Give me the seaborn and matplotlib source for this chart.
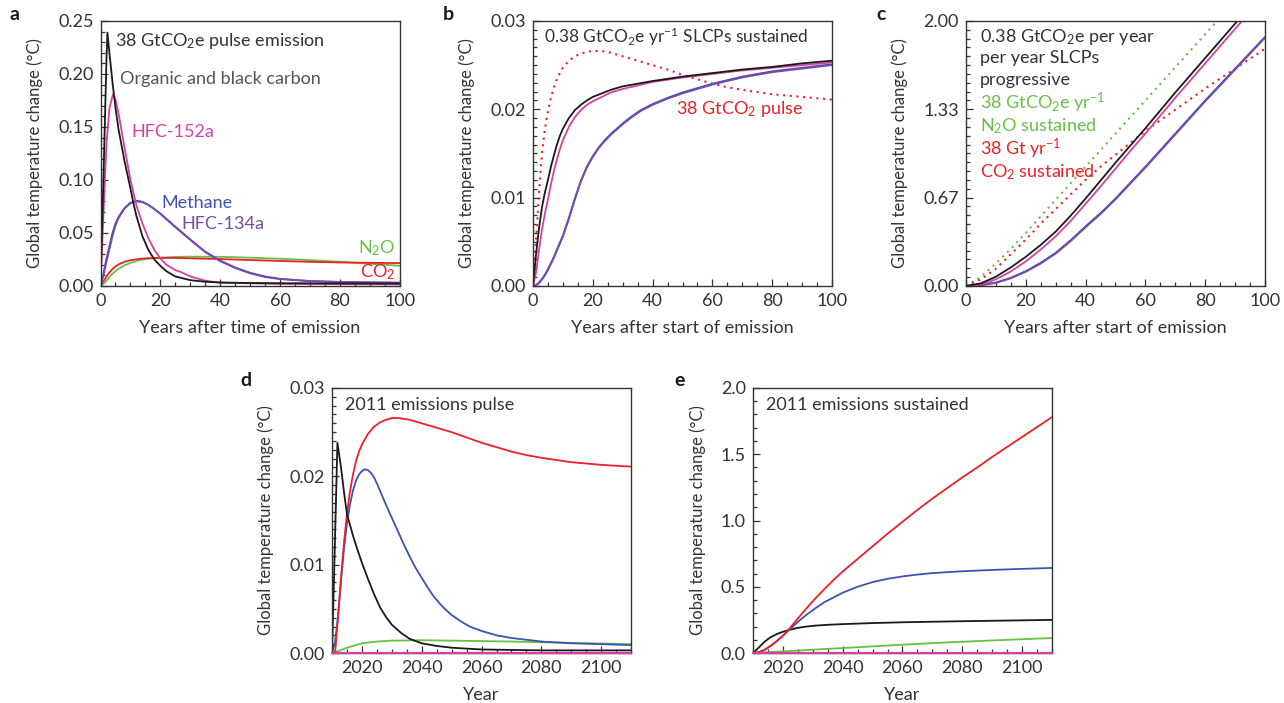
import matplotlib
matplotlib.use("Agg")
import matplotlib.pyplot as plt
import seaborn as sns
from matplotlib.ticker import MultipleLocator, FixedLocator

sns.set_style("ticks")
plt.rcParams['font.family'] = ['Lato', 'DejaVu Sans']
plt.rcParams['mathtext.fontset'] = 'custom'
plt.rcParams['mathtext.rm'] = 'Lato'
plt.rcParams['mathtext.it'] = 'Lato:italic'
plt.rcParams['mathtext.default'] = 'regular'

BLACK = "#1a1a1a"
PINK = "#d6409f"
BLUE = "#3d52b3"
PURPLE = "#7a4aa8"
GREEN = "#6abf45"
RED = "#ec2027"
TXT = "#333333"

# ---- panel a: 38 GtCO2e pulse ----
a_blk_t = [0, 1, 2, 2.3, 3, 4, 5, 6, 8, 10, 11, 12, 14, 16, 18, 20, 22, 25, 30, 35, 40, 50, 60, 80, 100]
a_blk_v = [0, 0.105, 0.215, 0.239, 0.219, 0.192, 0.168, 0.148, 0.118, 0.092, 0.078, 0.066, 0.047, 0.034, 0.025, 0.019, 0.014, 0.009, 0.0055, 0.004, 0.0033, 0.0028, 0.0026, 0.0024, 0.0023]
a_pnk_t = [0, 1, 2, 3, 4.2, 5, 6, 8, 10, 12, 14, 16, 18, 20, 22, 25, 27, 30, 35, 40, 60, 100]
a_pnk_v = [0, 0.07, 0.135, 0.168, 0.181, 0.176, 0.163, 0.131, 0.100, 0.076, 0.059, 0.045, 0.034, 0.026, 0.020, 0.015, 0.013, 0.009, 0.005, 0.003, 0.002, 0.0015]
a_ch4_t = [0, 1, 2, 3, 4, 5, 6, 8, 10, 12, 14, 16, 18, 20, 25, 30, 35, 40, 45, 50, 55, 60, 70, 80, 90, 100]
a_ch4_v = [0, 0.012, 0.026, 0.038, 0.050, 0.059, 0.065, 0.0735, 0.0785, 0.0805, 0.0795, 0.0765, 0.0725, 0.068, 0.0555, 0.0435, 0.032, 0.0235, 0.017, 0.012, 0.0085, 0.0065, 0.0045, 0.0037, 0.0033, 0.003]
a_134_v = [0, 0.010, 0.023, 0.035, 0.047, 0.057, 0.064, 0.073, 0.078, 0.0798, 0.079, 0.0765, 0.0727, 0.0683, 0.056, 0.044, 0.0325, 0.024, 0.0175, 0.0125, 0.009, 0.0068, 0.0047, 0.0039, 0.0035, 0.0032]
a_n2o_t = [0, 1, 2, 3, 4, 5, 6, 8, 10, 13, 16, 20, 25, 30, 40, 50, 60, 70, 80, 90, 100]
a_n2o_v = [0, 0.002, 0.005, 0.0085, 0.0115, 0.014, 0.016, 0.0195, 0.0218, 0.0243, 0.0258, 0.0268, 0.0274, 0.0277, 0.0275, 0.0267, 0.0257, 0.0244, 0.0228, 0.021, 0.0191]
a_co2_t = [0, 1, 2, 3, 4, 5, 6, 8, 10, 13, 16, 20, 25, 30, 40, 50, 60, 70, 80, 90, 100]
a_co2_v = [0, 0.0045, 0.009, 0.0128, 0.016, 0.0185, 0.0203, 0.0228, 0.0243, 0.0256, 0.0262, 0.0265, 0.0264, 0.0261, 0.0254, 0.0245, 0.0236, 0.0228, 0.0222, 0.0219, 0.0216]

# ---- panel b: sustained ----
b_t = [0, 1, 2, 3, 4, 5, 6, 7, 8, 9, 10, 12, 14, 16, 18, 20, 23, 26, 30, 35, 40, 50, 60, 70, 80, 90, 100]
b_blk = [0, 0.0035, 0.0065, 0.0089, 0.0106, 0.012, 0.0135, 0.0148, 0.016, 0.017, 0.0178, 0.019, 0.0199, 0.0205, 0.021, 0.0214, 0.0218, 0.0222, 0.0226, 0.0229, 0.0232, 0.0237, 0.0241, 0.0245, 0.0248, 0.0252, 0.0255]
b_pnk = [0, 0.0015, 0.004, 0.0064, 0.0082, 0.0098, 0.0115, 0.013, 0.0143, 0.0155, 0.0165, 0.018, 0.0191, 0.0199, 0.0205, 0.0209, 0.0214, 0.0219, 0.0223, 0.0227, 0.0231, 0.0236, 0.024, 0.0244, 0.0247, 0.025, 0.0253]
b_blu_t = [0, 1, 2, 3, 4, 5, 6, 7, 8, 9, 10, 11, 12, 13, 14, 15, 16, 17, 18, 19, 20, 22, 24, 26, 28, 30, 33, 36, 40, 45, 50, 55, 60, 70, 80, 90, 100]
b_blu = [0, 0.0001, 0.0004, 0.0008, 0.0013, 0.0019, 0.0026, 0.0033, 0.0041, 0.0049, 0.0057, 0.0067, 0.0077, 0.0088, 0.0099, 0.0109, 0.0119, 0.0127, 0.0135, 0.0141, 0.0147, 0.0157, 0.0165, 0.0172, 0.0178, 0.0184, 0.0192, 0.0199, 0.0206, 0.0213, 0.0219, 0.0224, 0.0229, 0.0237, 0.0243, 0.0247, 0.0251]
b_pur = [0, 0.0001, 0.0003, 0.0007, 0.0012, 0.0018, 0.0025, 0.0032, 0.004, 0.0048, 0.0056, 0.0066, 0.0076, 0.0087, 0.0098, 0.0108, 0.0118, 0.0126, 0.0134, 0.014, 0.0146, 0.0156, 0.0164, 0.0171, 0.0177, 0.0183, 0.0191, 0.0198, 0.0205, 0.0212, 0.0218, 0.0223, 0.0228, 0.0236, 0.0242, 0.0246, 0.025]
b_co2_t = [0, 1, 2, 3, 4, 5, 6, 7, 8, 9, 10, 12, 14, 16, 18, 20, 23, 26, 30, 35, 40, 45, 50, 55, 60, 65, 70, 80, 90, 100]
b_co2 = [0, 0.005, 0.0105, 0.015, 0.0178, 0.0198, 0.0213, 0.0225, 0.0234, 0.0241, 0.0247, 0.0255, 0.026, 0.0263, 0.0265, 0.0266, 0.0266, 0.0264, 0.026, 0.0255, 0.025, 0.0245, 0.0239, 0.0234, 0.0229, 0.0225, 0.0222, 0.0217, 0.0214, 0.0211]

# ---- panel c: progressive ----
c_t = [0, 5, 10, 15, 20, 25, 30, 35, 40, 45, 50, 55, 60, 65, 70, 75, 80, 85, 90, 95, 100]
c_n2o = [0, 0.07, 0.17, 0.28, 0.40, 0.525, 0.65, 0.775, 0.90, 1.025, 1.15, 1.275, 1.40, 1.525, 1.65, 1.775, 1.90, 2.025, 2.15, 2.275, 2.40]
c_co2 = [0, 0.05, 0.13, 0.24, 0.35, 0.47, 0.58, 0.69, 0.80, 0.90, 0.99, 1.08, 1.17, 1.25, 1.33, 1.41, 1.49, 1.565, 1.64, 1.715, 1.79]
c_blk = [0, 0.02, 0.07, 0.14, 0.22, 0.31, 0.41, 0.53, 0.66, 0.795, 0.93, 1.06, 1.19, 1.325, 1.46, 1.59, 1.72, 1.85, 1.98, 2.11, 2.24]
c_pnk = [0, 0.01, 0.05, 0.11, 0.185, 0.275, 0.375, 0.49, 0.62, 0.75, 0.885, 1.02, 1.15, 1.285, 1.42, 1.55, 1.68, 1.81, 1.94, 2.07, 2.20]
c_blu = [0, 0.006, 0.026, 0.062, 0.112, 0.175, 0.25, 0.345, 0.45, 0.55, 0.66, 0.78, 0.90, 1.025, 1.15, 1.275, 1.40, 1.52, 1.64, 1.76, 1.88]
c_pur = [0, 0.005, 0.023, 0.058, 0.107, 0.169, 0.244, 0.338, 0.443, 0.543, 0.653, 0.773, 0.893, 1.018, 1.143, 1.268, 1.393, 1.513, 1.633, 1.753, 1.873]

# ---- panel d: 2011 emissions pulse ----
d_blk_t = [2010, 2011, 2011.8, 2013, 2014, 2015, 2016, 2017, 2018, 2020, 2022, 2024, 2026, 2028, 2030, 2033, 2036, 2040, 2045, 2050, 2060, 2080, 2110]
d_blk = [0, 0.013, 0.0238, 0.021, 0.0182, 0.0157, 0.0145, 0.0133, 0.0122, 0.0102, 0.0084, 0.0067, 0.0052, 0.0041, 0.0032, 0.0023, 0.0016, 0.0011, 0.0008, 0.0006, 0.0004, 0.0003, 0.0003]
d_co2_t = [2011, 2012, 2013, 2014, 2015, 2016, 2017, 2018, 2019, 2020, 2022, 2024, 2026, 2028, 2030, 2032, 2036, 2040, 2045, 2050, 2055, 2060, 2065, 2070, 2075, 2080, 2090, 2100, 2110]
d_co2 = [0, 0.004, 0.0085, 0.0125, 0.0158, 0.0183, 0.0202, 0.0217, 0.0228, 0.0236, 0.0248, 0.0256, 0.0261, 0.0264, 0.0266, 0.0266, 0.0264, 0.026, 0.0255, 0.025, 0.0244, 0.0238, 0.0233, 0.0228, 0.0224, 0.0221, 0.0216, 0.0213, 0.0211]
d_ch4_t = [2010, 2011, 2012, 2013, 2014, 2015, 2016, 2017, 2018, 2019, 2020, 2021, 2022, 2023, 2024, 2025, 2026, 2027, 2028, 2030, 2032, 2034, 2036, 2038, 2040, 2042, 2044, 2046, 2048, 2050, 2053, 2056, 2060, 2065, 2070, 2075, 2080, 2090, 2100, 2110]
d_ch4 = [0, 0.0012, 0.0042, 0.0082, 0.0118, 0.0147, 0.0168, 0.0184, 0.0195, 0.0202, 0.0206, 0.0208, 0.0207, 0.0204, 0.0199, 0.0192, 0.0184, 0.0176, 0.0168, 0.0153, 0.0138, 0.0123, 0.0109, 0.0096, 0.0085, 0.0074, 0.0064, 0.0056, 0.0049, 0.0043, 0.0036, 0.003, 0.0025, 0.002, 0.0017, 0.0015, 0.0013, 0.0011, 0.001, 0.0009]
d_n2o_t = [2010, 2012, 2015, 2018, 2020, 2025, 2030, 2040, 2050, 2060, 2070, 2080, 2090, 2100, 2110]
d_n2o = [0, 0.0002, 0.0006, 0.0009, 0.0011, 0.0013, 0.0014, 0.00145, 0.0014, 0.00135, 0.0013, 0.00122, 0.00115, 0.00108, 0.001]
d_hfc_t = [2010, 2110]
d_hfc = [0, 0]

# ---- panel e: 2011 emissions sustained ----
e_co2_t = [2010, 2012, 2014, 2016, 2018, 2020, 2022, 2025, 2028, 2031, 2034, 2037, 2040, 2045, 2050, 2055, 2060, 2065, 2070, 2075, 2080, 2085, 2090, 2095, 2100, 2105, 2110]
e_co2 = [0, 0.006, 0.025, 0.055, 0.09, 0.13, 0.178, 0.26, 0.34, 0.415, 0.485, 0.552, 0.615, 0.71, 0.805, 0.9, 0.99, 1.08, 1.165, 1.245, 1.325, 1.40, 1.48, 1.555, 1.63, 1.705, 1.78]
e_ch4_t = [2010, 2012, 2014, 2016, 2018, 2020, 2022, 2025, 2028, 2031, 2034, 2037, 2040, 2045, 2050, 2055, 2060, 2065, 2070, 2080, 2090, 2100, 2110]
e_ch4 = [0, 0.006, 0.025, 0.055, 0.09, 0.13, 0.172, 0.235, 0.29, 0.34, 0.385, 0.42, 0.455, 0.5, 0.535, 0.56, 0.578, 0.592, 0.603, 0.617, 0.627, 0.635, 0.642]
e_blk_t = [2010, 2011, 2012, 2013, 2014, 2015, 2016, 2018, 2020, 2022, 2025, 2028, 2031, 2035, 2040, 2050, 2060, 2080, 2110]
e_blk = [0, 0.02, 0.042, 0.065, 0.087, 0.105, 0.12, 0.143, 0.16, 0.174, 0.19, 0.2, 0.207, 0.213, 0.218, 0.226, 0.232, 0.24, 0.25]
e_n2o_t = [2010, 2030, 2050, 2070, 2090, 2110]
e_n2o = [0, 0.025, 0.05, 0.075, 0.095, 0.113]
e_hfc_t = [2010, 2110]
e_hfc = [0, 0]

fig = plt.figure(figsize=(12.84, 7.03), dpi=100)
W = 0.2329
H = 0.377
ax_a = fig.add_axes([0.0783, 0.5932, W, H])
ax_b = fig.add_axes([0.4151, 0.5932, W, H])
ax_c = fig.add_axes([0.7523, 0.5932, W, H])
ax_d = fig.add_axes([0.2586, 0.0711, W, H])
ax_e = fig.add_axes([0.5864, 0.0711, W, H])

LW = 1.3
DOT = (0, (1, 2.2))


def line(ax, x, y, c, **kw):
    sns.lineplot(x=x, y=y, ax=ax, color=c, lw=kw.pop('lw', LW), estimator=None, **kw)


def style(ax, xlim, ylim, xmaj, xmin, ymin, xlabel):
    ax.set_xlim(*xlim)
    ax.set_ylim(*ylim)
    ax.xaxis.set_major_locator(FixedLocator(xmaj))
    ax.xaxis.set_minor_locator(MultipleLocator(xmin))
    ax.yaxis.set_minor_locator(MultipleLocator(ymin))
    ax.tick_params(which='both', direction='in', top=False, right=False,
                   color=TXT, width=0.9, labelcolor=TXT, labelsize=13, pad=5)
    ax.tick_params(which='major', length=5)
    ax.tick_params(which='minor', length=3)
    for s in ax.spines.values():
        s.set_color(TXT)
        s.set_linewidth(1.0)
    ax.set_xlabel(xlabel, fontsize=13, color=TXT, labelpad=8)
    ax.set_ylabel("Global temperature change (°C)", fontsize=12, color=TXT, labelpad=11)


# panel a
line(ax_a, a_n2o_t, a_n2o_v, GREEN)
line(ax_a, a_co2_t, a_co2_v, RED)
line(ax_a, a_ch4_t, a_ch4_v, BLUE)
line(ax_a, a_ch4_t, a_134_v, PURPLE)
line(ax_a, a_pnk_t, a_pnk_v, PINK)
line(ax_a, a_blk_t, a_blk_v, BLACK)
style(ax_a, (0, 100), (0, 0.25), [0, 20, 40, 60, 80, 100], 5, 0.01, "Years after time of emission")
ax_a.set_yticks([0, 0.05, 0.10, 0.15, 0.20, 0.25])
ax_a.set_yticklabels(["0.00", "0.05", "0.10", "0.15", "0.20", "0.25"])
ax_a.text(0.049, 0.925, "38 GtCO$_2$e pulse emission", transform=ax_a.transAxes, fontsize=13, color=TXT, va='center')
ax_a.text(0.066, 0.781, "Organic and black carbon", transform=ax_a.transAxes, fontsize=13, color="#555555", va='center')
ax_a.text(0.102, 0.581, "HFC-152a", transform=ax_a.transAxes, fontsize=13, color=PINK, va='center')
ax_a.text(0.203, 0.313, "Methane", transform=ax_a.transAxes, fontsize=13, color=BLUE, va='center')
ax_a.text(0.270, 0.234, "HFC-134a", transform=ax_a.transAxes, fontsize=13, color=PURPLE, va='center')
ax_a.text(0.862, 0.143, "N$_2$O", transform=ax_a.transAxes, fontsize=13, color=GREEN, va='center')
ax_a.text(0.866, 0.053, "CO$_2$", transform=ax_a.transAxes, fontsize=13, color=RED, va='center')

# panel b
line(ax_b, b_co2_t, b_co2, RED, linestyle=DOT, lw=1.5)
line(ax_b, b_blu_t, b_blu, BLUE)
line(ax_b, b_blu_t, b_pur, PURPLE)
line(ax_b, b_t, b_pnk, PINK)
line(ax_b, b_t, b_blk, BLACK)
style(ax_b, (0, 100), (0, 0.03), [0, 20, 40, 60, 80, 100], 5, 0.001, "Years after start of emission")
ax_b.set_yticks([0, 0.01, 0.02, 0.03])
ax_b.set_yticklabels(["0.00", "0.01", "0.02", "0.03"])
ax_b.text(0.037, 0.94, "0.38 GtCO$_2$e yr$^{-1}$ SLCPs sustained", transform=ax_b.transAxes, fontsize=12.5, color=TXT, va='center')
ax_b.text(0.477, 0.668, "38 GtCO$_2$ pulse", transform=ax_b.transAxes, fontsize=13, color=RED, va='center')

# panel c
line(ax_c, c_t, c_n2o, GREEN, linestyle=DOT, lw=1.5)
line(ax_c, c_t, c_co2, RED, linestyle=DOT, lw=1.5)
line(ax_c, c_t, c_blu, BLUE)
line(ax_c, c_t, c_pur, PURPLE)
line(ax_c, c_t, c_pnk, PINK)
line(ax_c, c_t, c_blk, BLACK)
style(ax_c, (0, 100), (0, 2), [0, 20, 40, 60, 80, 100], 5, 2 / 30, "Years after start of emission")
ax_c.set_yticks([0, 2 / 3, 4 / 3, 2])
ax_c.set_yticklabels(["0.00", "0.67", "1.33", "2.00"])
c_lines = [("0.38 GtCO$_2$e per year", TXT), ("per year SLCPs", TXT), ("progressive", TXT),
           ("38 GtCO$_2$e yr$^{-1}$", GREEN), ("N$_2$O sustained", GREEN),
           ("38 Gt yr$^{-1}$", RED), ("CO$_2$ sustained", RED)]
c_ys = [0.94, 0.860, 0.777, 0.691, 0.604, 0.517, 0.430]
for (s, col), yy in zip(c_lines, c_ys):
    ax_c.text(0.047, yy, s, transform=ax_c.transAxes, fontsize=13, color=col, va='center')

# panel d
line(ax_d, d_n2o_t, d_n2o, GREEN)
line(ax_d, d_ch4_t, d_ch4, BLUE)
line(ax_d, d_co2_t, d_co2, RED)
line(ax_d, d_blk_t, d_blk, BLACK)
line(ax_d, d_hfc_t, d_hfc, PINK, lw=1.6, clip_on=False, zorder=5)
style(ax_d, (2010, 2110), (0, 0.03), [2020, 2040, 2060, 2080, 2100], 5, 0.001, "Year")
ax_d.set_yticks([0, 0.01, 0.02, 0.03])
ax_d.set_yticklabels(["0.00", "0.01", "0.02", "0.03"])
ax_d.text(0.043, 0.936, "2011 emissions pulse", transform=ax_d.transAxes, fontsize=13, color=TXT, va='center')

# panel e
line(ax_e, e_n2o_t, e_n2o, GREEN)
line(ax_e, e_blk_t, e_blk, BLACK)
line(ax_e, e_ch4_t, e_ch4, BLUE)
line(ax_e, e_co2_t, e_co2, RED)
line(ax_e, e_hfc_t, e_hfc, PINK, lw=1.6, clip_on=False, zorder=5)
style(ax_e, (2010, 2110), (0, 2), [2020, 2040, 2060, 2080, 2100], 5, 0.1, "Year")
ax_e.set_yticks([0, 0.5, 1.0, 1.5, 2.0])
ax_e.set_yticklabels(["0.0", "0.5", "1.0", "1.5", "2.0"])
ax_e.text(0.043, 0.936, "2011 emissions sustained", transform=ax_e.transAxes, fontsize=13, color=TXT, va='center')

# panel letters
for lab, px, py in [("a", 10, 14), ("b", 443, 14), ("c", 876, 14), ("d", 240, 381), ("e", 674, 381)]:
    fig.text(px / 1284, 1 - py / 703, lab, fontsize=14, fontweight='bold', color=BLACK, ha='left', va='center')

fig.savefig("out.png", dpi=100)
